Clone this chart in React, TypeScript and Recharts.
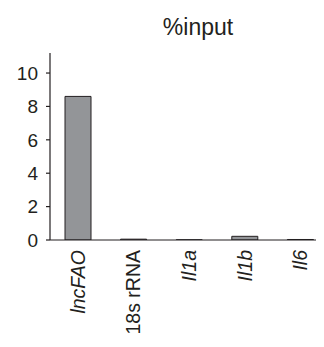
import React from "react";
import { BarChart, Bar, XAxis, YAxis } from "recharts";

const categories = ["lncFAO", "18s rRNA", "Il1a", "Il1b", "Il6"];
const italicFlags = [true, false, true, true, true];
const values = [8.6, 0.05, 0.01, 0.22, 0.03];
const yTicks = [0, 2, 4, 6, 8, 10];

const data = categories.map((c, i) => ({ name: c, value: values[i], italic: italicFlags[i] }));

const FONT = "'Liberation Sans', Arial, Helvetica, sans-serif";
const INK = "#231f20";

const XTick = (props: any) => {
  const { x, payload, index } = props;
  const italic = italicFlags[index ?? categories.indexOf(payload.value)];
  return (
    <text
      x={0}
      y={0}
      transform={`translate(${x + 7},${242}) rotate(-90)`}
      textAnchor="end"
      fontSize={19.5}
      fontFamily={FONT}
      fontStyle={italic ? "italic" : "normal"}
      fill={INK}
    >
      {payload.value}
    </text>
  );
};

export default function App() {
  return (
    <div style={{ position: "relative", width: 316, height: 331, fontFamily: FONT }}>
      <div
        style={{
          position: "absolute",
          left: 90,
          top: 7,
          width: 200,
          textAlign: "center",
          fontSize: 23,
          lineHeight: "24px",
          color: INK,
          fontFamily: FONT,
        }}
      >
        %input
      </div>
      <BarChart
        width={316}
        height={331}
        data={data}
        margin={{ top: 45, right: -4, bottom: 0, left: 0 }}
        barSize={26}
      >
        <XAxis
          dataKey="name"
          height={99}
          tickLine={false}
          axisLine={{ stroke: INK, strokeWidth: 1.2 }}
          tick={<XTick />}
          interval={0}
        />
        <YAxis
          width={42}
          domain={[0, 11.2]}
          ticks={yTicks}
          tickSize={4}
          tickMargin={8}
          axisLine={{ stroke: INK, strokeWidth: 1.2 }}
          tickLine={{ stroke: INK, strokeWidth: 1.2 }}
          tick={{ fill: INK, fontSize: 19, fontFamily: FONT }}
          allowDataOverflow
        />
        <Bar dataKey="value" fill="#939598" stroke={INK} strokeWidth={1} isAnimationActive={false} />
      </BarChart>
    </div>
  );
}
